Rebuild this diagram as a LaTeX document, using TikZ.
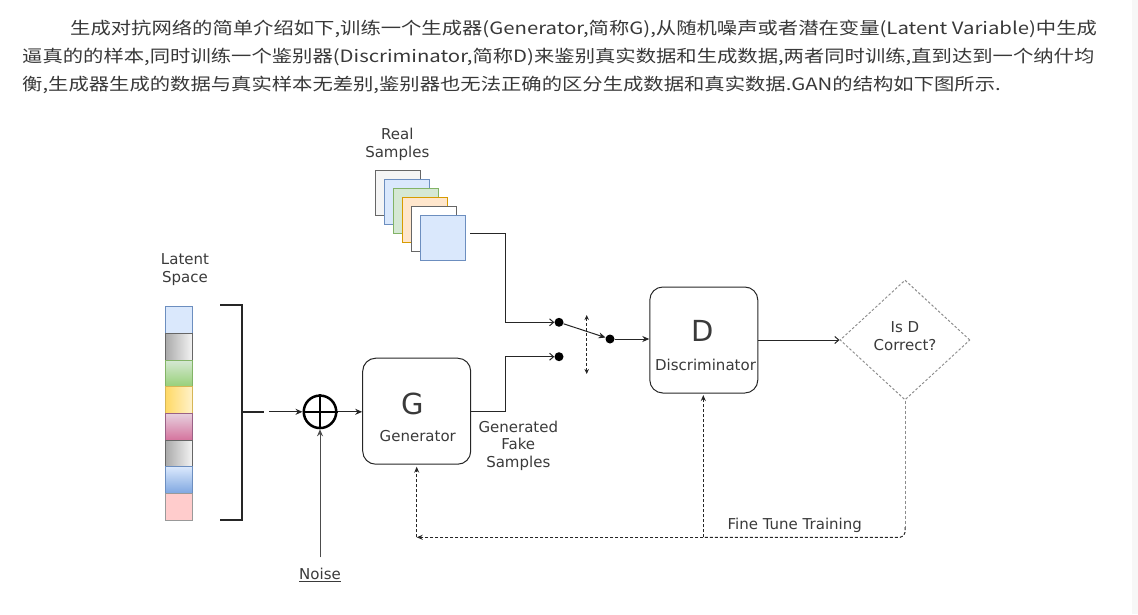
\documentclass[tikz,border=0pt]{standalone}
\usepackage{graphicx}
\usepackage{fontspec}
\setmainfont{DejaVu Sans}
\newfontfamily\cjk{Noto Sans CJK SC}
\usetikzlibrary{arrows.meta,shapes.geometric,calc}
\definecolor{txt}{HTML}{3A3A3A}
\definecolor{ptxt}{HTML}{383838}
\definecolor{bfill}{HTML}{DAE8FC}\definecolor{bline}{HTML}{6C8EBF}
\definecolor{gfill}{HTML}{D5E8D4}\definecolor{gline}{HTML}{82B366}
\definecolor{ofill}{HTML}{FFE6CC}\definecolor{oline}{HTML}{D79B00}
\definecolor{greyfill}{HTML}{F5F5F5}\definecolor{greyline}{HTML}{666666}
\definecolor{yline}{HTML}{D6B656}\definecolor{pline}{HTML}{996185}
\definecolor{rfill}{HTML}{FFCCCC}
\newcommand{\wide}[1]{\scalebox{1.196}[1]{#1}}
\begin{document}
\begin{tikzpicture}[x=1pt,y=-1pt,
  para/.style={anchor=base west, inner sep=0pt, text=ptxt, font=\cjk\fontsize{17}{20}\selectfont},
  lbl/.style={text=txt, font=\fontsize{15}{17.6}\selectfont, align=center, inner sep=0pt},
  big/.style={text=txt, font=\fontsize{29}{30}\selectfont, inner sep=0pt},
  blk/.style={draw=black!85, line width=1pt, rounded corners=13pt, minimum width=108pt, minimum height=106pt, inner sep=0pt},
  ln/.style={draw=black!85, line width=1pt},
  arr/.style={ln, -{Stealth[length=7pt,width=6pt]}},
  oarr/.style={ln, -{Straight Barb[length=4pt,width=7pt]}},
  dsh/.style={ln, dash pattern=on 3pt off 2pt},
  dotn/.style={circle, fill=black, minimum size=9pt, inner sep=0pt},
  sq/.style={draw, line width=1pt, minimum size=45pt, inner sep=0pt},
  cell/.style={draw, line width=1pt, minimum width=27pt, minimum height=26.7pt, inner sep=0pt},
]
\useasboundingbox (0,0) rectangle (1138,614);
\fill[black!3] (1132,0) rectangle (1138,614);

% paragraph
\node[para] (t1) at (70,34) {\wide{生成对抗网络的简单介绍如下,训练一个生成器(Generator,简称G),从随机噪声或者潜在变量(Latent Variable)中生成}};
\node[para] (t2) at (22,62) {\wide{逼真的的样本,同时训练一个鉴别器(Discriminator,简称D)来鉴别真实数据和生成数据,两者同时训练,直到达到一个纳什均}};
\node[para] (t3) at (22,90) {\wide{衡,生成器生成的数据与真实样本无差别,鉴别器也无法正确的区分生成数据和真实数据.GAN的结构如下图所示.}};

% real samples
\node[lbl] (real) at (397.3,144.2) {Real\\Samples};
\node[sq, fill=greyfill, draw=greyline] (rs1) at (397.8,192.5) {};
\node[sq, fill=bfill, draw=bline] (rs2) at (406.8,201.5) {};
\node[sq, fill=gfill, draw=gline] (rs3) at (415.8,210.5) {};
\node[sq, fill=ofill, draw=oline] (rs4) at (424.8,219.5) {};
\node[sq, fill=white, draw=greyline] (rs5) at (433.8,228.5) {};
\node[sq, fill=bfill, draw=bline] (rs6) at (442.8,237.5) {};

% latent space
\node[lbl] (latent) at (185,269.5) {Latent\\Space};
\node[cell, fill=bfill, draw=bline] (c1) at (179.2,320) {};
\node[cell, left color=black!33, right color=black!4, draw=greyline] (c2) at (179.2,346.7) {};
\node[cell, top color=gfill, bottom color={rgb,255:red,151;green,208;blue,119}, draw=gline] (c3) at (179.2,373.4) {};
\node[cell, left color={rgb,255:red,255;green,217;blue,102}, right color={rgb,255:red,255;green,242;blue,204}, draw=yline] (c4) at (179.2,400.1) {};
\node[cell, top color={rgb,255:red,230;green,208;blue,222}, bottom color={rgb,255:red,213;green,115;blue,157}, draw=pline] (c5) at (179.2,426.8) {};
\node[cell, left color=black!33, right color=black!4, draw=greyline] (c6) at (179.2,453.5) {};
\node[cell, top color=bfill, bottom color={rgb,255:red,126;green,166;blue,224}, draw=bline] (c7) at (179.2,480.2) {};
\node[cell, fill=rfill, draw=black!40] (c8) at (179.2,506.9) {};

% bracket
\draw[black!85, line width=2pt] (220,305) -- (241.7,305) -- (241.7,520) -- (220,520);
\coordinate (bm) at (241.7,411.8);
\draw[black!85, line width=2pt] (bm) -- ++(22.3,0);
\coordinate (bs) at (269.3,411.8);

% plus
\node[circle, draw=black, line width=2.5pt, minimum size=32.5pt, inner sep=0pt] (plus) at (320,411.8) {};
\draw[line width=2.5pt] (plus.north) -- (plus.south) (plus.west) -- (plus.east);
\draw[arr] (bs) -- (plus);

% noise
\node[lbl] (noise) at (320,575) {\underline{Noise}};
\coordinate (nz) at (320,557.3);
\draw[arr, draw=black!70] (nz) -- (plus);

% generator
\node[blk] (G) at (416.7,411.2) {};
\node[big] (Gl) at (413,403.5) {G};
\node[lbl] (Gt) at (417.8,436.5) {Generator};
\draw[arr] (plus.east) -- (plus.east -| G.west);
\node[lbl] (gfs) at (518.3,445.8) {Generated\\Fake\\Samples};

% discriminator
\node[blk] (D) at (703.8,340) {};
\node[big] (Dl) at (702.5,331) {D};
\node[lbl] (Dt) at (705.5,365.3) {Discriminator};

% switch
\node[dotn] (d1) at (559,322.3) {};
\node[dotn] (d2) at (559,356.7) {};
\node[dotn] (d3) at (610,339) {};
\coordinate (rsout) at (470,233.3);
\coordinate (jx) at (505.7,280);
\coordinate (jy) at (505.7,380);
\draw[oarr] (rsout) -| (jx) |- (d1);
\draw[oarr] (G.east |- 0,411) -| (jy) |- (d2);
\draw[arr] (d1) -- (d3);
\draw[arr] (d3) -- (d3 -| D.west);
\coordinate (swT) at (586.7,315);
\coordinate (swB) at (586.7,374);
\draw[dsh, {Stealth[length=5pt,width=4.5pt]}-{Stealth[length=5pt,width=4.5pt]}] (swT) -- (swB);

% decision
\node[diamond, draw=black!45, dash pattern=on 2.5pt off 2pt, line width=1pt, minimum width=130pt, minimum height=120pt, inner sep=0pt] (diam) at (905,340) {};
\node[lbl] (isd) at (905,336) {Is D\\Correct?};
\draw[ln, -{Straight Barb[length=4pt,width=7pt]}] (D) -- (diam);

% feedback
\coordinate (fbL) at (416.7,537.3);
\coordinate (fbD) at (703.3,537.3);
\coordinate (fbC) at (905,527);
\draw[dsh, draw=black!45] (diam.south) -- (fbC);
\draw[dsh, rounded corners=5pt] (fbC) |- (fbD);
\draw[dsh, -{Stealth[length=6pt,width=5pt]}] (fbD) -- (fbL);
\draw[dsh, -{Stealth[length=6pt,width=5pt]}, shorten >=2pt] (fbL) -- (fbL |- G.south);
\draw[dsh, -{Stealth[length=6pt,width=5pt]}, shorten >=1.5pt] (fbD) -- (fbD |- D.south);
\node[lbl] (ftt) at (794.7,525.5) {Fine Tune Training};
\end{tikzpicture}
\end{document}
